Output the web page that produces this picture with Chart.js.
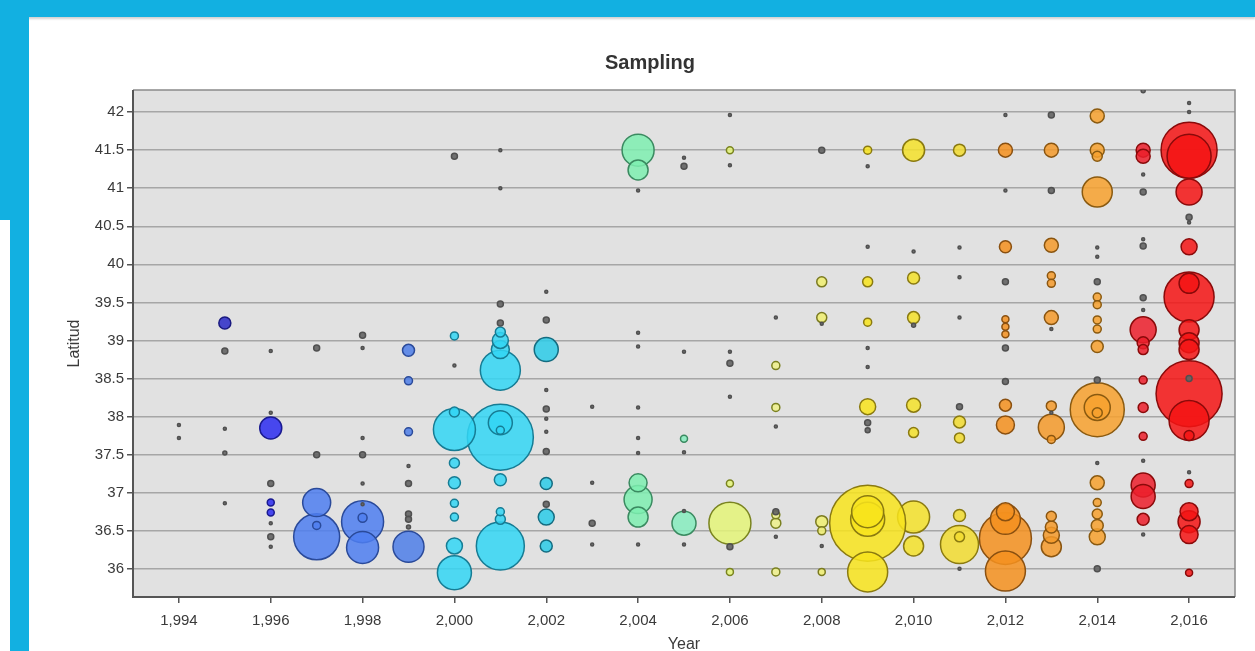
<!DOCTYPE html>
<html>
<head>
<meta charset="utf-8">
<script src="https://cdn.jsdelivr.net/npm/chart.js@4.4.0/dist/chart.umd.min.js"></script>
<style>
  html, body { margin: 0; padding: 0; background: #fff; width: 1255px; height: 651px; overflow: hidden; }
  #topbar { position: absolute; left: 0; top: 0; width: 1255px; height: 17px; background: #12b0e1; box-shadow: 0 2px 2px rgba(0,0,0,0.18); z-index: 2; }
  #leftbar { position: absolute; left: 0; top: 0; width: 29px; height: 220px; background: #12b0e1; z-index: 2; }
  #leftbar2 { position: absolute; left: 10px; top: 220px; width: 19px; height: 431px; background: #12b0e1; z-index: 2; }
  #wrap { position: absolute; left: 45px; top: 0; }
</style>
</head>
<body>
<div id="topbar"></div>
<div id="leftbar"></div>
<div id="leftbar2"></div>
<div id="wrap"><canvas id="chart" width="1230" height="651"></canvas></div>

<script>
// tick labels
const xTicks = [1994, 1996, 1998, 2000, 2002, 2004, 2006, 2008, 2010, 2012, 2014, 2016];
const yTicks = [36, 36.5, 37, 37.5, 38, 38.5, 39, 39.5, 40, 40.5, 41, 41.5, 42];

// samples per year: [latitude, bubble radius]
const s1994 = [[37.89, 1.5], [37.72, 1.5]];
const s1995 = [[39.23, 6], [38.86, 3], [37.84, 1.5], [37.52, 2], [36.86, 1.5]];
const s1996 = [[38.86, 1.5], [38.05, 1.5], [37.85, 11], [37.12, 3], [36.87, 3.5], [36.74, 3.5], [36.6, 1.5], [36.42, 3], [36.29, 1.5]];
const s1997 = [[38.9, 3], [37.5, 3], [36.87, 14], [36.42, 23], [36.57, 4]];
const s1998 = [[39.07, 3], [38.9, 1.5], [37.72, 1.5], [37.5, 3], [37.12, 1.5], [36.85, 1.5], [36.62, 21], [36.28, 16], [36.67, 4.5]];
const s1999 = [[38.87, 6], [38.47, 4], [37.8, 4], [37.35, 1.5], [37.12, 3], [36.72, 3], [36.65, 3], [36.55, 2], [36.29, 15.5]];
const s2000 = [[41.42, 3], [39.06, 4], [38.67, 1.5], [37.83, 21], [38.06, 5], [37.39, 5], [37.13, 6], [36.86, 4], [36.68, 4], [36.3, 8], [35.95, 17]];
const s2001 = [[41.5, 1.5], [41.0, 1.5], [39.48, 3], [39.23, 3], [39.11, 5], [39.0, 8], [38.88, 9], [38.61, 20], [37.73, 33], [37.92, 12], [37.82, 4], [37.17, 6], [36.75, 4], [36.65, 5], [36.3, 24]];
const s2002 = [[39.64, 1.5], [39.27, 3], [38.88, 12], [38.35, 1.5], [38.1, 3], [37.97, 1.5], [37.8, 1.5], [37.54, 3], [37.12, 6], [36.85, 3], [36.68, 8], [36.3, 6]];
const s2003 = [[38.13, 1.5], [37.13, 1.5], [36.6, 3], [36.32, 1.5]];
const s2004 = [[41.5, 16], [41.24, 10], [40.97, 1.5], [39.1, 1.5], [38.92, 1.5], [38.12, 1.5], [37.72, 1.5], [37.52, 1.5], [37.13, 9], [36.91, 14], [36.68, 10], [36.32, 1.5]];
const s2005 = [[41.4, 1.5], [41.29, 3], [38.85, 1.5], [37.71, 3.5], [37.53, 1.5], [36.76, 1.5], [36.6, 12], [36.32, 1.5]];
const s2006 = [[41.96, 1.5], [41.5, 3.5], [41.3, 1.5], [38.85, 1.5], [38.7, 3], [38.26, 1.5], [37.12, 3.5], [36.6, 21], [36.29, 3], [35.96, 3.5]];
const s2007 = [[39.3, 1.5], [38.67, 4], [38.12, 4], [37.87, 1.5], [36.75, 3], [36.71, 4], [36.6, 5], [36.42, 1.5], [35.96, 4]];
const s2008 = [[41.5, 3], [39.77, 5], [39.3, 5], [39.22, 1.5], [36.62, 6], [36.5, 4], [36.3, 1.5], [35.96, 3.5]];
const s2009 = [[41.5, 4], [41.29, 1.5], [40.23, 1.5], [39.77, 5], [39.24, 4], [38.9, 1.5], [38.65, 1.5], [38.13, 8], [37.92, 3], [37.82, 2.5], [36.6, 38], [36.65, 17], [36.75, 16], [35.96, 20]];
const s2010 = [[41.5, 11], [40.17, 1.5], [39.82, 6], [39.3, 6], [39.2, 2], [38.15, 7], [37.79, 5], [36.68, 16], [36.3, 10]];
const s2011 = [[41.5, 6], [40.22, 1.5], [39.83, 1.5], [39.3, 1.5], [38.13, 3], [37.93, 6], [37.72, 5], [36.7, 6], [36.42, 5], [36.32, 19], [36.0, 1.5]];
const s2012 = [[41.96, 1.5], [41.5, 7], [40.97, 1.5], [40.23, 6], [39.77, 3], [39.28, 3.5], [39.18, 3.5], [39.08, 3.5], [38.9, 3], [38.46, 3], [38.15, 6], [37.89, 9], [36.75, 9], [36.65, 15], [36.4, 26], [35.97, 20]];
const s2013 = [[41.96, 3], [41.5, 7], [40.97, 3], [40.25, 7], [39.85, 4], [39.75, 4], [39.3, 7], [39.15, 1.5], [38.14, 5], [38.05, 1.5], [37.86, 13], [37.7, 4], [36.69, 5], [36.55, 6], [36.44, 8], [36.29, 10]];
const s2014 = [[41.95, 7], [41.5, 7], [41.42, 5], [40.95, 15], [40.22, 1.5], [40.1, 1.5], [39.77, 3], [39.57, 4], [39.47, 4], [39.27, 4], [39.15, 4], [38.92, 6], [38.48, 3], [38.09, 27], [38.12, 13], [38.05, 5], [37.39, 1.5], [37.13, 7], [36.87, 4], [36.72, 5], [36.57, 6], [36.42, 8], [36.0, 3]];
const s2015 = [[42.28, 2], [41.5, 7], [41.42, 7], [41.18, 1.5], [40.95, 3], [40.33, 1.5], [40.24, 3], [39.56, 3], [39.4, 1.5], [39.14, 13], [38.97, 6], [38.88, 5], [38.48, 4], [38.12, 5], [37.74, 4], [37.42, 1.5], [37.1, 12], [36.95, 12], [36.65, 6], [36.45, 1.5]];
const s2016 = [[42.12, 1.5], [42.0, 1.5], [41.5, 28], [41.42, 22], [40.95, 13], [40.62, 3], [40.55, 1.5], [40.23, 8], [39.57, 25], [39.75, 10], [39.14, 10], [38.97, 10], [38.88, 10], [38.3, 33], [37.95, 20], [38.5, 3], [37.75, 5], [37.27, 1.5], [37.12, 4], [36.75, 9], [36.62, 11], [36.45, 9], [35.95, 3.5]];

const years = [1994, 1995, 1996, 1997, 1998, 1999, 2000, 2001, 2002, 2003, 2004, 2005,
               2006, 2007, 2008, 2009, 2010, 2011, 2012, 2013, 2014, 2015, 2016];
const samples = [s1994, s1995, s1996, s1997, s1998, s1999, s2000, s2001, s2002, s2003, s2004, s2005,
                 s2006, s2007, s2008, s2009, s2010, s2011, s2012, s2013, s2014, s2015, s2016];

const fillColors = ['#808080', '#2a2ac8', '#2b2bf0', '#4d7ef0', '#4d7ef0', '#4d7ee8', '#33d6f5', '#33d6f5',
                    '#2ccbe8', '#808080', '#7eeeb0', '#86ecbe', '#e4f478', '#eef08a', '#f0ee70', '#f8e41c',
                    '#f5e22a', '#f2dc30', '#f5901e', '#f59a2a', '#f7a12e', '#ec1e2c', '#f51414'];
const lineColors = ['#555555', '#1a1a80', '#1a1a90', '#2a4a9a', '#2a4a9a', '#2a4a9a', '#167c94', '#167c94',
                    '#146c80', '#555555', '#3a8a60', '#3a8a60', '#7a8420', '#7a8020', '#7a7a20', '#8a7a10',
                    '#8a7a10', '#8a7a10', '#8a5010', '#8a5510', '#8a5a10', '#8a0a0a', '#8a0a0a'];

const fontFamily = '"Liberation Sans", Arial, sans-serif';
const textColor = '#3a3a3a';

function withAlpha(hex, a) {
  const n = parseInt(hex.slice(1), 16);
  return `rgba(${(n >> 16) & 255}, ${(n >> 8) & 255}, ${n & 255}, ${a})`;
}

// bigger bubbles first so small ones stay visible on top
const datasets = years.map((yr, i) => {
  const pts = samples[i].map(p => ({ x: yr, y: p[0], r: p[1] })).sort((a, b) => b.r - a.r);
  return {
    label: String(yr),
    data: pts,
    backgroundColor: c => (c.raw && c.raw.r <= 3) ? 'rgba(100,100,100,0.9)' : withAlpha(fillColors[i], 0.85),
    borderColor: c => (c.raw && c.raw.r <= 3) ? '#505050' : lineColors[i],
    borderWidth: 1.5
  };
});

const plotFrame = {
  id: 'plotFrame',
  beforeDraw(chart) {
    const a = chart.chartArea, g = chart.ctx;
    g.save();
    g.fillStyle = '#e1e1e1';
    g.fillRect(a.left, a.top, a.right - a.left, a.bottom - a.top);
    g.restore();
  },
  beforeDatasetsDraw(chart) {
    const a = chart.chartArea, g = chart.ctx;
    g.save();
    g.strokeStyle = '#8a8a8a';
    g.lineWidth = 1.5;
    g.beginPath();
    g.moveTo(a.left, a.top); g.lineTo(a.right, a.top); g.lineTo(a.right, a.bottom);
    g.stroke();
    g.strokeStyle = '#555';
    g.lineWidth = 2;
    g.beginPath();
    g.moveTo(a.left, a.top); g.lineTo(a.left, a.bottom); g.lineTo(a.right, a.bottom);
    g.stroke();
    g.restore();
  }
};

new Chart(document.getElementById('chart').getContext('2d'), {
  type: 'bubble',
  data: { datasets },
  options: {
    responsive: false,
    animation: false,
    layout: { padding: { left: 20, right: 40, top: 51, bottom: 0 } },
    plugins: {
      legend: { display: false },
      tooltip: { enabled: false },
      title: {
        display: true,
        text: 'Sampling',
        color: '#333',
        font: { family: fontFamily, size: 20, weight: 'bold' },
        padding: { top: 0, bottom: 15 }
      }
    },
    scales: {
      x: {
        type: 'linear',
        min: 1993,
        max: 2017,
        afterBuildTicks: s => { s.ticks = xTicks.map(v => ({ value: v })); },
        afterFit: s => { s.height = 54; },
        grid: { drawOnChartArea: false, drawTicks: true, tickLength: 6, tickColor: '#555', lineWidth: 1.5 },
        border: { display: false },
        ticks: {
          color: textColor,
          font: { family: fontFamily, size: 15 },
          padding: 9,
          callback: v => Number(v).toLocaleString('en-US')
        },
        title: {
          display: true,
          text: 'Year',
          color: textColor,
          font: { family: fontFamily, size: 16 },
          padding: { top: 0, bottom: -3 }
        }
      },
      y: {
        min: 35.63,
        max: 42.29,
        afterBuildTicks: s => { s.ticks = yTicks.map(v => ({ value: v })); },
        afterFit: s => { s.width = 68; },
        grid: { color: '#a6a6a6', lineWidth: 1.5, tickColor: '#555', tickLength: 6 },
        border: { display: false },
        ticks: {
          color: textColor,
          font: { family: fontFamily, size: 15 },
          padding: 3,
          callback: v => String(v)
        },
        title: {
          display: true,
          text: 'Latitud',
          color: textColor,
          font: { family: fontFamily, size: 16 },
          padding: { top: 0, bottom: 0 }
        }
      }
    }
  },
  plugins: [plotFrame]
});
</script>
</body>
</html>
